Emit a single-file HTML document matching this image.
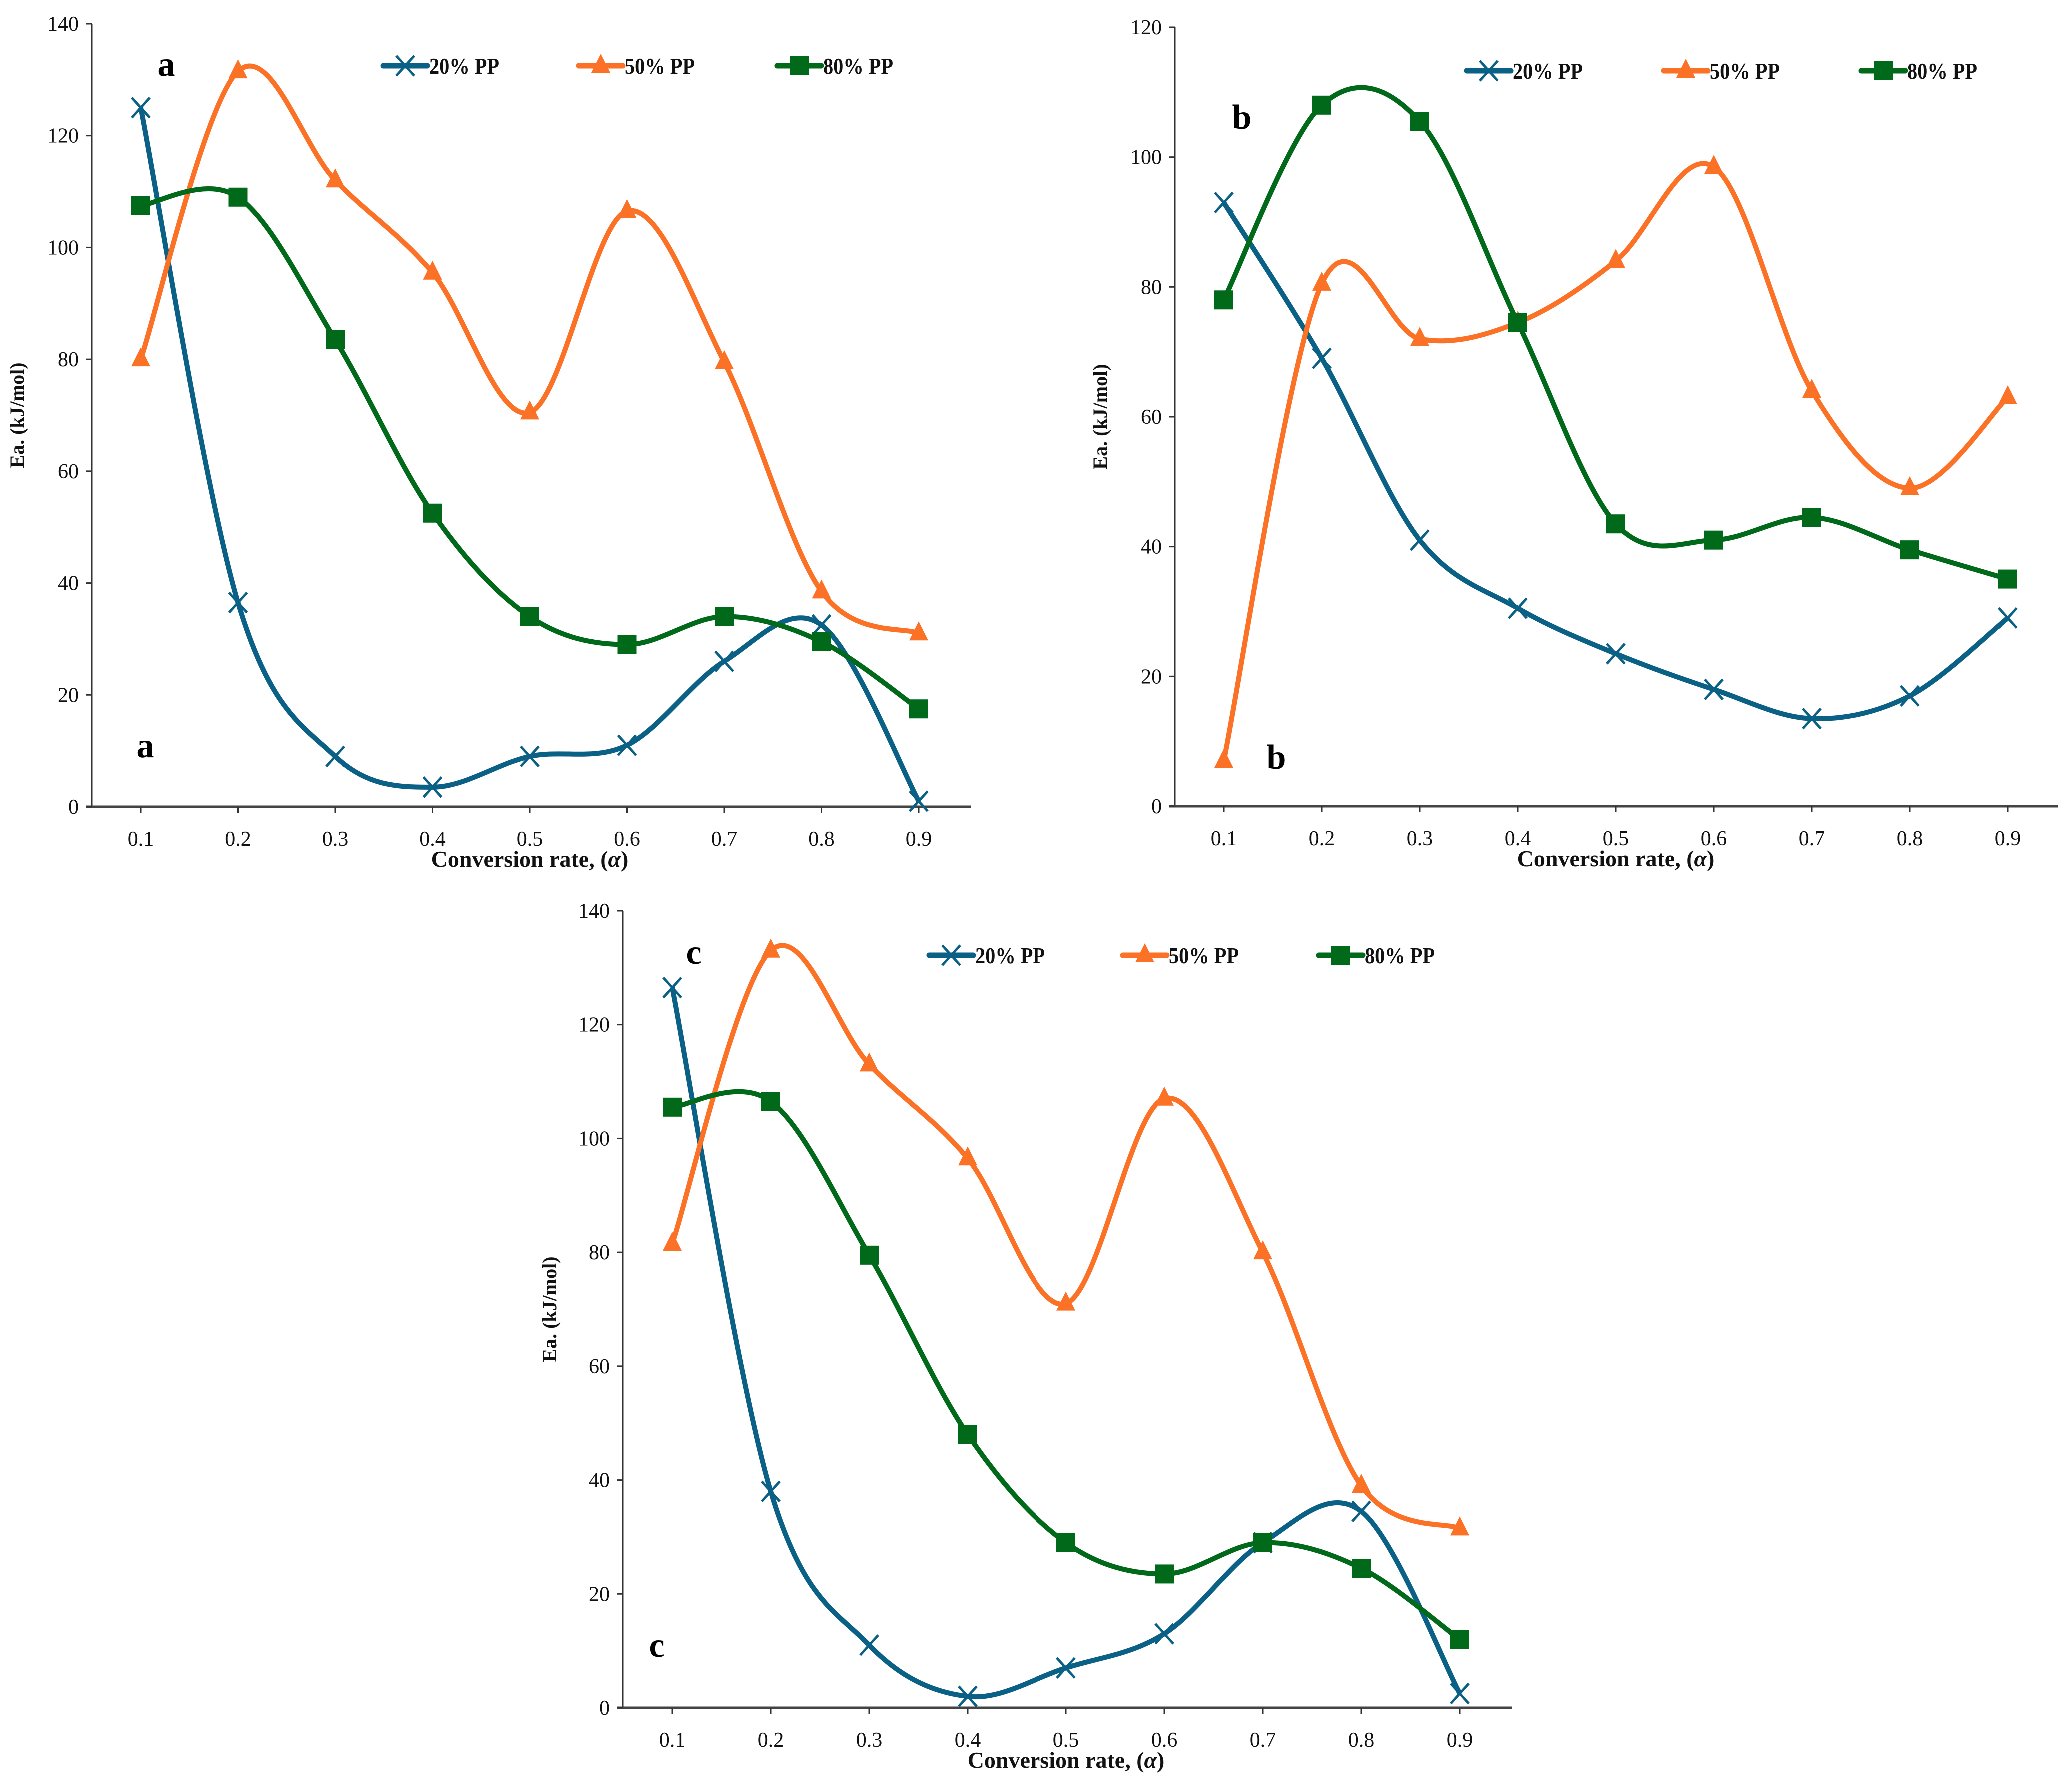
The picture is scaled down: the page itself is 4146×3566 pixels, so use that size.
<!DOCTYPE html>
<html><head><meta charset="utf-8"><style>
html,body{margin:0;padding:0;background:#fff;}
svg{display:block;font-family:"Liberation Serif",serif;}
</style></head><body>
<svg id="fig" width="4146" height="3566" viewBox="0 0 4146 3566" xmlns="http://www.w3.org/2000/svg"></svg>
<script>
const categories = ["0.1","0.2","0.3","0.4","0.5","0.6","0.7","0.8","0.9"];
const seriesNames = ["20% PP","50% PP","80% PP"];
const aPP20 = [125,36.5,9,3.5,9,11,26,32.5,1];
const aPP50 = [80,131.5,112,95.5,70.5,106.5,79.5,38.5,31];
const aPP80 = [107.5,109,83.5,52.5,34,29,34,29.5,17.5];
const bPP20 = [93,69,41,30.5,23.5,18,13.5,17,29];
const bPP50 = [7,80.5,72,74.5,84,98.5,64,49,63];
const bPP80 = [78,108,105.5,74.5,43.5,41,44.5,39.5,35];
const cPP20 = [126.5,38,11,2,7,13,29,34.5,2.5];
const cPP50 = [81.5,133,113,96.5,71,107,80,39,31.5];
const cPP80 = [105.5,106.5,79.5,48,29,23.5,29,24.5,12];
const yTicksAC = [0,20,40,60,80,100,120,140];
const yTicksB = [0,20,40,60,80,100,120];

const NS="http://www.w3.org/2000/svg";
const svg=document.getElementById('fig');
const colors=["#0a6085","#fb7125","#00691a"];
const markers=["x","tri","sq"];
function mk(tag,attrs,parent){const e=document.createElementNS(NS,tag);for(const k in attrs)e.setAttribute(k,attrs[k]);(parent||svg).appendChild(e);return e;}

const panels=[
 {id:"a",axX:184,axR:1943,y0:1614,yTop:48,yMax:140,x1:282,step:194.5,ticks:yTicksAC,data:[aPP20,aPP50,aPP80],
  leg:{y:132,starts:[767,1158,1555]},lab1:[333,152],lab2:[291,1515],ylabX:48},
 {id:"b",axX:2351,axR:4117,y0:1613,yTop:55,yMax:120,x1:2449,step:196,ticks:yTicksB,data:[bPP20,bPP50,bPP80],
  leg:{y:142,starts:[2935,3329,3724]},lab1:[2485,258],lab2:[2554,1538],ylabX:2215},
 {id:"c",axX:1246,axR:3025,y0:3417,yTop:1823,yMax:140,x1:1345,step:197,ticks:yTicksAC,data:[cPP20,cPP50,cPP80],
  leg:{y:1912,starts:[1859,2247,2639]},lab1:[1388,1929],lab2:[1314,3315],ylabX:1113}
];

function drawMarker(g,type,x,y,col){
  let m;
  if(type==="x"){
    m=mk('path',{d:`M${x-18},${y-20}L${x+18},${y+20}M${x-18},${y+20}L${x+18},${y-20}`,stroke:col,'stroke-width':5,fill:'none'},g);
  }else if(type==="tri"){
    m=mk('path',{d:`M${x},${y-24}L${x+19},${y+14}L${x-19},${y+14}Z`,fill:col},g);
  }else{
    m=mk('rect',{x:x-19,y:y-19,width:38,height:38,fill:col},g);
  }
  return m;
}

panels.forEach(p=>{
  const g=mk('g',{});
  
  
  const xs=i=>p.x1+i*p.step;
  const ys=v=>p.y0-(v/p.yMax)*(p.y0-p.yTop);
  // axes
  const ya=mk('line',{x1:p.axX,y1:p.yTop,x2:p.axX,y2:p.y0,stroke:'#333','stroke-width':3},g);
  
  
  const xa=mk('line',{x1:p.axX-12,y1:p.y0,x2:p.axR,y2:p.y0,stroke:'#444','stroke-width':5},g);
  
  
  p.ticks.forEach(t=>{
    const y=ys(t);
    mk('line',{x1:p.axX-12,y1:y,x2:p.axX,y2:y,stroke:'#333','stroke-width':3},g);
    const tx=mk('text',{x:p.axX-26,y:y+14,'font-size':42,'text-anchor':'end',fill:'#111'},g);
    tx.textContent=t;
    
    
  });
  categories.forEach((c,i)=>{
    const x=xs(i);
    mk('line',{x1:x,y1:p.y0,x2:x,y2:p.y0+12,stroke:'#333','stroke-width':3},g);
    const tx=mk('text',{x:x,y:p.y0+78,'font-size':42,'text-anchor':'middle',fill:'#111'},g);
    tx.textContent=c;
    
    
  });
  const xt=mk('text',{x:(p.x1+xs(8))/2,y:p.y0+120,'font-size':46,'font-weight':'bold','text-anchor':'middle',fill:'#111'},g);
  xt.textContent="Conversion rate, (";
  const al=mk('tspan',{'font-style':'italic'},xt);al.textContent="α";
  const cl=mk('tspan',{},xt);cl.textContent=")";
  
  
  const ymid=(p.y0+p.yTop)/2;
  const yt=mk('text',{x:p.ylabX,y:ymid,'font-size':40,'font-weight':'bold','text-anchor':'middle',fill:'#111',transform:`rotate(-90 ${p.ylabX} ${ymid})`},g);
  yt.textContent="Ea. (kJ/mol)";
  
  
  // series
  p.data.forEach((vals,si)=>{
    const pts=vals.map((v,i)=>[xs(i),ys(v)]);
    let d=`M${pts[0][0]},${pts[0][1]}`;
    for(let i=0;i<pts.length-1;i++){
      const p0=pts[i-1]||pts[i],p1=pts[i],p2=pts[i+1],p3=pts[i+2]||pts[i+1];
      const c1=[p1[0]+(p2[0]-p0[0])/6,p1[1]+(p2[1]-p0[1])/6];
      const c2=[p2[0]-(p3[0]-p1[0])/6,p2[1]-(p3[1]-p1[1])/6];
      d+=`C${c1[0]},${c1[1]} ${c2[0]},${c2[1]} ${p2[0]},${p2[1]}`;
    }
    const line=mk('path',{d:d,fill:'none',stroke:colors[si],'stroke-width':10,'stroke-linejoin':'round'},g);
    
    
    pts.forEach(pt=>{
      const m=drawMarker(g,markers[si],pt[0],pt[1],colors[si]);
      
      
    });
    // legend
    const lx=p.leg.starts[si],ly=p.leg.y;
    const lg=mk('g',{},g);
    
    
    mk('line',{x1:lx,y1:ly,x2:lx+88,y2:ly,stroke:colors[si],'stroke-width':11,'stroke-linecap':'round'},lg);
    drawMarker(lg,markers[si],lx+44,ly,colors[si]);
    const lt=mk('text',{x:lx+92,y:ly+16,'font-size':46,'font-weight':'bold',fill:'#111',textLength:140,lengthAdjust:'spacingAndGlyphs'},lg);
    lt.textContent=seriesNames[si];
  });
  const l1=mk('text',{x:p.lab1[0],y:p.lab1[1],'font-size':70,'font-weight':'bold','text-anchor':'middle',fill:'#000'},g);
  l1.textContent=p.id;
  
  
  const l2=mk('text',{x:p.lab2[0],y:p.lab2[1],'font-size':70,'font-weight':'bold','text-anchor':'middle',fill:'#000'},g);
  l2.textContent=p.id;
  
  
});
</script>
</body></html>
